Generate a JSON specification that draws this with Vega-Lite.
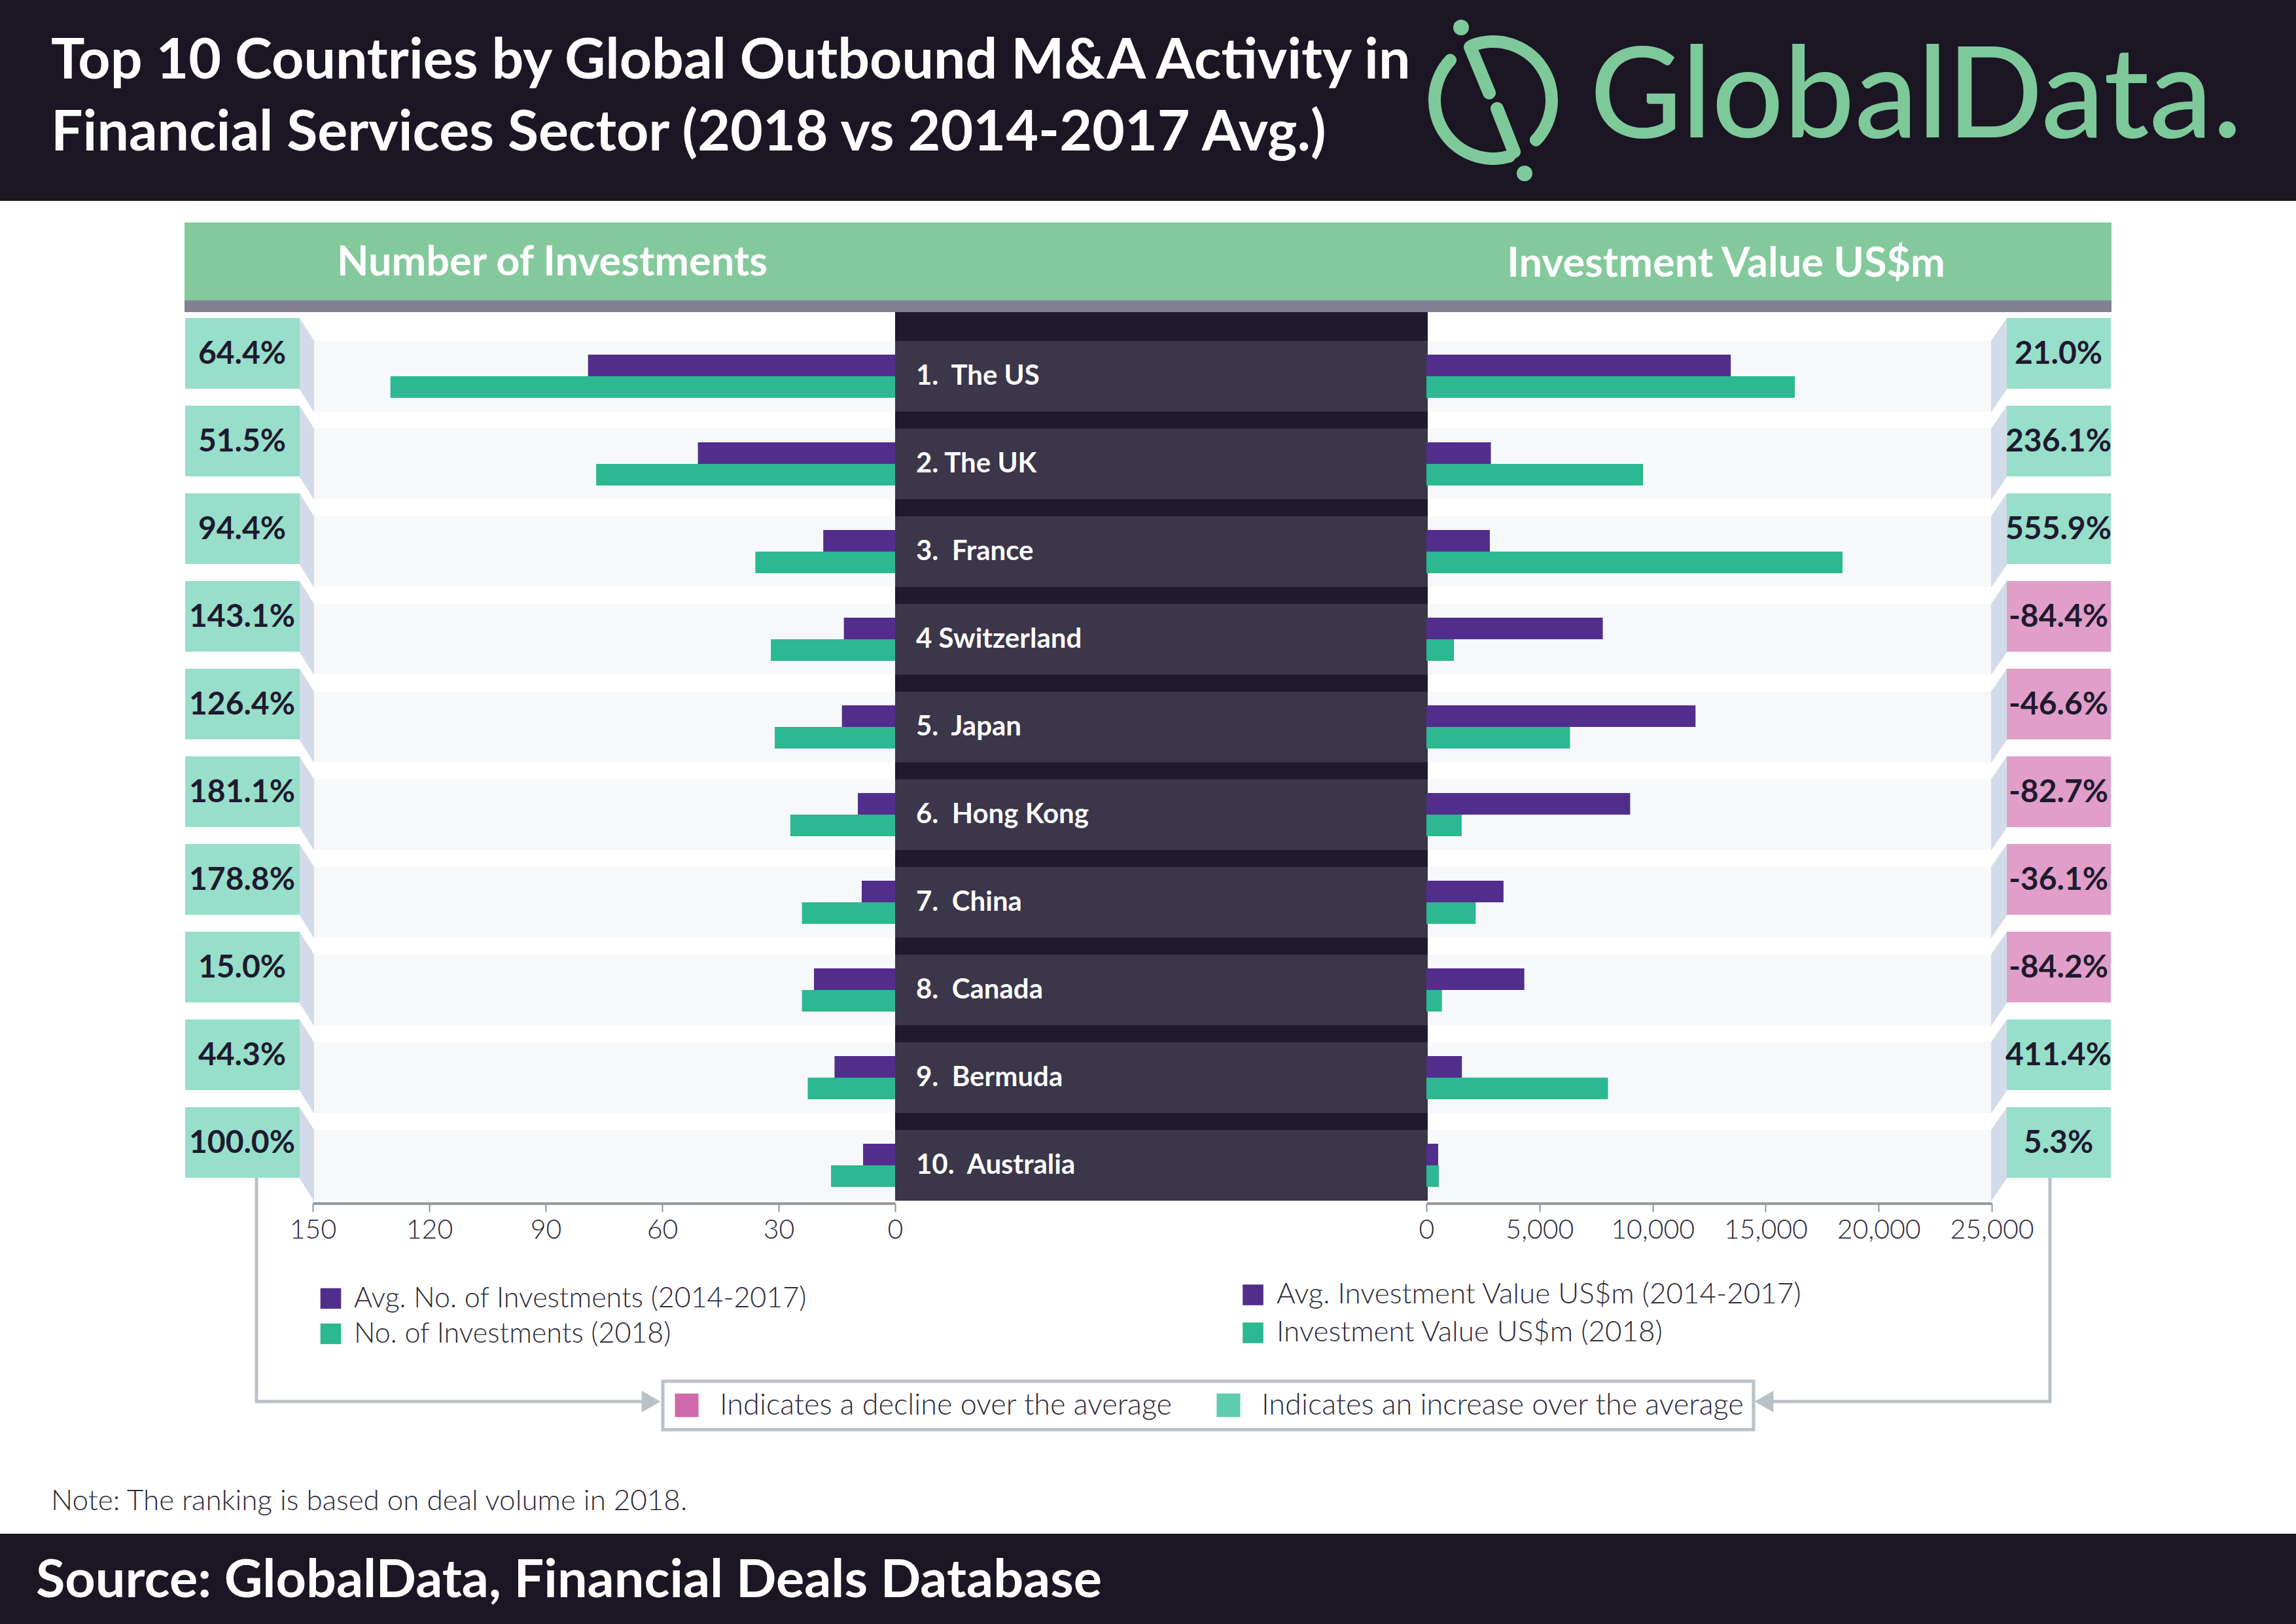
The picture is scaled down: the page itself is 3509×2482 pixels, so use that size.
{
  "$schema": "https://vega.github.io/schema/vega-lite/v6.json",
  "width": 3509,
  "height": 2482,
  "autosize": "none",
  "padding": 0,
  "background": "white",
  "config": {
    "font": "Lato",
    "view": {"stroke": null},
    "locale": {"number": {"decimal": ".", "thousands": ",", "grouping": [3], "currency": ["$", ""], "minus": "-"}}
  },
  "datasets": {
    "rows": [
      {"rank": 1, "country": "The US", "label": "1.\u00a0 The US", "avgN": 79.1, "n2018": 130, "pctN": 0.644, "trendN": "increase", "avgV": 13460, "v2018": 16290, "pctV": 0.21, "trendV": "increase"},
      {"rank": 2, "country": "The UK", "label": "2. The UK", "avgN": 50.8, "n2018": 77, "pctN": 0.515, "trendN": "increase", "avgV": 2850, "v2018": 9580, "pctV": 2.361, "trendV": "increase"},
      {"rank": 3, "country": "France", "label": "3.\u00a0 France", "avgN": 18.5, "n2018": 36, "pctN": 0.944, "trendN": "increase", "avgV": 2805, "v2018": 18400, "pctV": 5.559, "trendV": "increase"},
      {"rank": 4, "country": "Switzerland", "label": "4 Switzerland", "avgN": 13.2, "n2018": 32, "pctN": 1.431, "trendN": "increase", "avgV": 7800, "v2018": 1217, "pctV": -0.844, "trendV": "decline"},
      {"rank": 5, "country": "Japan", "label": "5.\u00a0 Japan", "avgN": 13.7, "n2018": 31, "pctN": 1.264, "trendN": "increase", "avgV": 11900, "v2018": 6350, "pctV": -0.466, "trendV": "decline"},
      {"rank": 6, "country": "Hong Kong", "label": "6.\u00a0 Hong Kong", "avgN": 9.6, "n2018": 27, "pctN": 1.811, "trendN": "increase", "avgV": 9010, "v2018": 1560, "pctV": -0.827, "trendV": "decline"},
      {"rank": 7, "country": "China", "label": "7.\u00a0 China", "avgN": 8.6, "n2018": 24, "pctN": 1.788, "trendN": "increase", "avgV": 3410, "v2018": 2180, "pctV": -0.361, "trendV": "decline"},
      {"rank": 8, "country": "Canada", "label": "8.\u00a0 Canada", "avgN": 20.9, "n2018": 24, "pctN": 0.15, "trendN": "increase", "avgV": 4330, "v2018": 685, "pctV": -0.842, "trendV": "decline"},
      {"rank": 9, "country": "Bermuda", "label": "9.\u00a0 Bermuda", "avgN": 15.6, "n2018": 22.5, "pctN": 0.443, "trendN": "increase", "avgV": 1570, "v2018": 8030, "pctV": 4.114, "trendV": "increase"},
      {"rank": 10, "country": "Australia", "label": "10.\u00a0 Australia", "avgN": 8.25, "n2018": 16.5, "pctN": 1.0, "trendN": "increase", "avgV": 520, "v2018": 548, "pctV": 0.053, "trendV": "increase"}
    ]
  },
  "layer": [
    {
      "data": {"values": [{}]},
      "mark": {"type": "rect", "color": "#1c1524"},
      "encoding": {"x": {"value": 0}, "x2": {"value": 3509}, "y": {"value": 0}, "y2": {"value": 307}}
    },
    {
      "data": {"values": [{}]},
      "mark": {"type": "arc", "theta": -0.471, "theta2": 2.426, "radius": 99, "radius2": 80, "cornerRadius": 9, "color": "#7dc99a"},
      "encoding": {"x": {"value": 2282}, "y": {"value": 153}}
    },
    {
      "data": {"values": [{}]},
      "mark": {"type": "arc", "theta": 2.758, "theta2": 5.568, "radius": 99, "radius2": 80, "cornerRadius": 9, "color": "#7dc99a"},
      "encoding": {"x": {"value": 2282}, "y": {"value": 153}}
    },
    {
      "data": {"values": [{}]},
      "mark": {"type": "rule", "color": "#7dc99a", "strokeWidth": 20, "strokeCap": "round"},
      "encoding": {"x": {"value": 2247}, "y": {"value": 72}, "x2": {"value": 2276}, "y2": {"value": 142}}
    },
    {
      "data": {"values": [{}]},
      "mark": {"type": "rule", "color": "#7dc99a", "strokeWidth": 20, "strokeCap": "round"},
      "encoding": {"x": {"value": 2288}, "y": {"value": 166}, "x2": {"value": 2314}, "y2": {"value": 232}}
    },
    {
      "data": {"values": [{}]},
      "mark": {"type": "point", "shape": "circle", "filled": true, "size": 576, "opacity": 1, "color": "#7dc99a"},
      "encoding": {"x": {"value": 2233}, "y": {"value": 42}}
    },
    {
      "data": {"values": [{}]},
      "mark": {"type": "point", "shape": "circle", "filled": true, "size": 576, "opacity": 1, "color": "#7dc99a"},
      "encoding": {"x": {"value": 2330}, "y": {"value": 265}}
    },
    {
      "data": {"values": [{}]},
      "mark": {"type": "text", "text": "GlobalData.", "align": "left", "baseline": "alphabetic", "fontSize": 193, "fontWeight": 500, "color": "#7dc99a"},
      "encoding": {"x": {"value": 2430}, "y": {"value": 210}}
    },
    {
      "data": {"values": [{}]},
      "mark": {"type": "text", "text": ["Top 10 Countries by Global Outbound M&A Activity in", "Financial Services Sector (2018 vs 2014-2017 Avg.)"], "align": "left", "baseline": "alphabetic", "fontSize": 86, "fontWeight": "bold", "color": "white", "lineHeight": 110},
      "encoding": {"x": {"value": 78}, "y": {"value": 120}}
    },
    {
      "data": {"values": [{}]},
      "mark": {"type": "rect", "color": "#84c99c"},
      "encoding": {"x": {"value": 282}, "x2": {"value": 3227}, "y": {"value": 340}, "y2": {"value": 459}}
    },
    {
      "data": {"values": [{}]},
      "mark": {"type": "rect", "color": "#828090"},
      "encoding": {"x": {"value": 282}, "x2": {"value": 3227}, "y": {"value": 459}, "y2": {"value": 477}}
    },
    {
      "data": {"values": [{}]},
      "mark": {"type": "text", "text": "Number of Investments", "align": "center", "baseline": "alphabetic", "fontSize": 63, "fontWeight": "bold", "color": "white"},
      "encoding": {"x": {"value": 844}, "y": {"value": 421}}
    },
    {
      "data": {"values": [{}]},
      "mark": {"type": "text", "text": "Investment Value US$m", "align": "center", "baseline": "alphabetic", "fontSize": 63, "fontWeight": "bold", "color": "white"},
      "encoding": {"x": {"value": 2638}, "y": {"value": 423}}
    },
    {
      "data": {"values": [{}]},
      "mark": {"type": "rect", "color": "#201a2f"},
      "encoding": {"x": {"value": 1368}, "x2": {"value": 2182}, "y": {"value": 477}, "y2": {"value": 1835}}
    },
    {
      "data": {"name": "rows"},
      "mark": {"type": "rect", "color": "#f7f8fa"},
      "encoding": {
        "y": {"field": "country", "type": "nominal", "sort": null, "scale": {"domain": ["The US", "The UK", "France", "Switzerland", "Japan", "Hong Kong", "China", "Canada", "Bermuda", "Australia"], "range": [508, 1848], "paddingInner": 0.194, "paddingOuter": 0.097}, "axis": null},
        "x": {"value": 480}, "x2": {"value": 1368}
      }
    },
    {
      "data": {"name": "rows"},
      "mark": {"type": "rect", "color": "#f7f8fa"},
      "encoding": {
        "y": {"field": "country", "type": "nominal", "sort": null, "scale": {"domain": ["The US", "The UK", "France", "Switzerland", "Japan", "Hong Kong", "China", "Canada", "Bermuda", "Australia"], "range": [508, 1848], "paddingInner": 0.194, "paddingOuter": 0.097}, "axis": null},
        "x": {"value": 2182}, "x2": {"value": 3043}
      }
    },
    {
      "data": {"name": "rows"},
      "mark": {"type": "rect", "color": "#3b3649"},
      "encoding": {
        "y": {"field": "country", "type": "nominal", "sort": null, "scale": {"domain": ["The US", "The UK", "France", "Switzerland", "Japan", "Hong Kong", "China", "Canada", "Bermuda", "Australia"], "range": [508, 1848], "paddingInner": 0.194, "paddingOuter": 0.097}, "axis": null},
        "x": {"value": 1368}, "x2": {"value": 2182}
      }
    },
    {
      "data": {"name": "rows"},
      "transform": [{"fold": ["avgN", "n2018"], "as": ["series", "amount"]}],
      "mark": {"type": "bar"},
      "encoding": {
        "y": {"field": "country", "type": "nominal", "sort": null, "scale": {"domain": ["The US", "The UK", "France", "Switzerland", "Japan", "Hong Kong", "China", "Canada", "Bermuda", "Australia"], "range": [508, 1848], "paddingInner": 0.194, "paddingOuter": 0.097}, "axis": null},
        "yOffset": {"field": "series", "type": "nominal", "scale": {"domain": ["avgN", "n2018"], "paddingInner": 0, "paddingOuter": 0.636}},
        "x": {
          "field": "amount", "type": "quantitative",
          "scale": {"domain": [0, 150], "range": [1368, 478], "nice": false},
          "axis": {"orient": "bottom", "offset": -643, "values": [0, 30, 60, 90, 120, 150], "title": null, "grid": false, "labelFontSize": 41, "labelFontWeight": 300, "labelColor": "#2d2a3a", "labelFlush": false, "labelOverlap": false, "domainColor": "#8c96a0", "domainWidth": 4, "tickColor": "#8c96a0", "tickWidth": 2, "tickSize": 13, "labelPadding": 8}
        },
        "color": {
          "field": "series", "type": "nominal",
          "scale": {"domain": ["avgN", "n2018"], "range": ["#512e8c", "#2cb890"]},
          "legend": {"orient": "none", "legendX": 484, "legendY": 1963, "title": null, "padding": 0, "symbolType": "square", "symbolSize": 1000, "symbolStrokeWidth": 0, "labelFontSize": 43, "labelFontWeight": 300, "labelColor": "#2d2a3a", "labelOffset": 14, "rowPadding": 10, "labelLimit": 2000,
            "labelExpr": "datum.value === 'avgN' ? 'Avg. No. of Investments (2014-2017)' : 'No. of Investments (2018)'"}
        }
      }
    },
    {
      "data": {"name": "rows"},
      "transform": [{"fold": ["avgV", "v2018"], "as": ["series", "amount"]}],
      "mark": {"type": "bar"},
      "encoding": {
        "y": {"field": "country", "type": "nominal", "sort": null, "scale": {"domain": ["The US", "The UK", "France", "Switzerland", "Japan", "Hong Kong", "China", "Canada", "Bermuda", "Australia"], "range": [508, 1848], "paddingInner": 0.194, "paddingOuter": 0.097}, "axis": null},
        "yOffset": {"field": "series", "type": "nominal", "scale": {"domain": ["avgV", "v2018"], "paddingInner": 0, "paddingOuter": 0.636}},
        "x": {
          "field": "amount", "type": "quantitative",
          "scale": {"domain": [0, 25000], "range": [2180, 3044], "nice": false},
          "axis": {"orient": "bottom", "offset": -643, "values": [0, 5000, 10000, 15000, 20000, 25000], "labelExpr": "format(datum.value, ',')", "title": null, "grid": false, "labelFontSize": 41, "labelFontWeight": 300, "labelColor": "#2d2a3a", "labelFlush": false, "labelOverlap": false, "domainColor": "#8c96a0", "domainWidth": 4, "tickColor": "#8c96a0", "tickWidth": 2, "tickSize": 13, "labelPadding": 8}
        },
        "color": {
          "field": "series", "type": "nominal",
          "scale": {"domain": ["avgV", "v2018"], "range": ["#512e8c", "#2cb890"]},
          "legend": {"orient": "none", "legendX": 1893, "legendY": 1957, "title": null, "padding": 0, "symbolType": "square", "symbolSize": 1000, "symbolStrokeWidth": 0, "labelFontSize": 44, "labelFontWeight": 300, "labelColor": "#2d2a3a", "labelOffset": 14, "rowPadding": 14, "labelLimit": 2000,
            "labelExpr": "datum.value === 'avgV' ? 'Avg. Investment Value US$m (2014-2017)' : 'Investment Value US$m (2018)'"}
        }
      }
    },
    {
      "data": {"name": "rows"},
      "mark": {"type": "text", "align": "left", "baseline": "middle", "fontSize": 42, "fontWeight": "bold", "color": "white"},
      "encoding": {
        "y": {"field": "country", "type": "nominal", "sort": null, "scale": {"domain": ["The US", "The UK", "France", "Switzerland", "Japan", "Hong Kong", "China", "Canada", "Bermuda", "Australia"], "range": [508, 1848], "paddingInner": 0.194, "paddingOuter": 0.097}, "axis": null},
        "x": {"value": 1400},
        "text": {"field": "label", "type": "nominal"}
      }
    },
    {
      "data": {"name": "rows"},
      "mark": {"type": "point", "shape": "M -0.153 -1 L 0.153 -0.514 L 0.153 1 L -0.153 0.514 Z", "size": 20736, "filled": true, "opacity": 1, "color": "#d2dce8", "yOffset": -17},
      "encoding": {
        "y": {"field": "country", "type": "nominal", "sort": null, "scale": {"domain": ["The US", "The UK", "France", "Switzerland", "Japan", "Hong Kong", "China", "Canada", "Bermuda", "Australia"], "range": [508, 1848], "paddingInner": 0.194, "paddingOuter": 0.097}, "axis": null},
        "x": {"value": 469}
      }
    },
    {
      "data": {"name": "rows"},
      "mark": {"type": "point", "shape": "M -0.167 -0.514 L 0.167 -1 L 0.167 0.514 L -0.167 1 Z", "size": 20736, "filled": true, "opacity": 1, "color": "#d2dce8", "yOffset": -17},
      "encoding": {
        "y": {"field": "country", "type": "nominal", "sort": null, "scale": {"domain": ["The US", "The UK", "France", "Switzerland", "Japan", "Hong Kong", "China", "Canada", "Bermuda", "Australia"], "range": [508, 1848], "paddingInner": 0.194, "paddingOuter": 0.097}, "axis": null},
        "x": {"value": 3055}
      }
    },
    {
      "data": {"name": "rows"},
      "mark": {"type": "rect", "yOffset": -35, "fillOpacity": 0.65},
      "encoding": {
        "y": {"field": "country", "type": "nominal", "sort": null, "scale": {"domain": ["The US", "The UK", "France", "Switzerland", "Japan", "Hong Kong", "China", "Canada", "Bermuda", "Australia"], "range": [508, 1848], "paddingInner": 0.194, "paddingOuter": 0.097}, "axis": null},
        "x": {"value": 283}, "x2": {"value": 458},
        "color": {"field": "trendN", "type": "nominal", "scale": {"domain": ["decline", "increase"], "range": ["#d06aac", "#5fcdaf"]}, "legend": null}
      }
    },
    {
      "data": {"name": "rows"},
      "mark": {"type": "rect", "yOffset": -35, "fillOpacity": 0.65},
      "encoding": {
        "y": {"field": "country", "type": "nominal", "sort": null, "scale": {"domain": ["The US", "The UK", "France", "Switzerland", "Japan", "Hong Kong", "China", "Canada", "Bermuda", "Australia"], "range": [508, 1848], "paddingInner": 0.194, "paddingOuter": 0.097}, "axis": null},
        "x": {"value": 3067}, "x2": {"value": 3226},
        "color": {
          "field": "trendV", "type": "nominal",
          "scale": {"domain": ["decline", "increase"], "range": ["#d06aac", "#5fcdaf"]},
          "legend": {"orient": "none", "legendX": 1013, "legendY": 2111, "direction": "horizontal", "title": null, "padding": 14, "strokeColor": "#b9c1c9", "symbolType": "square", "symbolSize": 1300, "symbolStrokeWidth": 0, "symbolOpacity": 1, "labelFontSize": 45, "labelFontWeight": 300, "labelColor": "#2d2a3a", "labelOffset": 28, "columnPadding": 62, "labelLimit": 2000,
            "labelExpr": "datum.value === 'decline' ? 'Indicates a decline over the average' : 'Indicates an increase over the average'",
            "encode": {"legend": {"update": {"strokeWidth": {"value": 5}}}}}
        }
      }
    },
    {
      "data": {"name": "rows"},
      "mark": {"type": "text", "align": "center", "baseline": "middle", "fontSize": 48, "fontWeight": "bold", "color": "#1e1a2e", "dy": -33},
      "encoding": {
        "y": {"field": "country", "type": "nominal", "sort": null, "scale": {"domain": ["The US", "The UK", "France", "Switzerland", "Japan", "Hong Kong", "China", "Canada", "Bermuda", "Australia"], "range": [508, 1848], "paddingInner": 0.194, "paddingOuter": 0.097}, "axis": null},
        "x": {"value": 370},
        "text": {"field": "pctN", "type": "quantitative", "format": ".1%"}
      }
    },
    {
      "data": {"name": "rows"},
      "mark": {"type": "text", "align": "center", "baseline": "middle", "fontSize": 48, "fontWeight": "bold", "color": "#1e1a2e", "dy": -33},
      "encoding": {
        "y": {"field": "country", "type": "nominal", "sort": null, "scale": {"domain": ["The US", "The UK", "France", "Switzerland", "Japan", "Hong Kong", "China", "Canada", "Bermuda", "Australia"], "range": [508, 1848], "paddingInner": 0.194, "paddingOuter": 0.097}, "axis": null},
        "x": {"value": 3146},
        "text": {"field": "pctV", "type": "quantitative", "format": ".1%"}
      }
    },
    {
      "data": {"values": [{}]},
      "mark": {"type": "rule", "color": "#b9c1c9", "strokeWidth": 5},
      "encoding": {"x": {"value": 392}, "y": {"value": 1800}, "y2": {"value": 2144}}
    },
    {
      "data": {"values": [{}]},
      "mark": {"type": "rule", "color": "#b9c1c9", "strokeWidth": 5},
      "encoding": {"x": {"value": 390}, "x2": {"value": 990}, "y": {"value": 2142}}
    },
    {
      "data": {"values": [{}]},
      "mark": {"type": "point", "shape": "triangle-right", "size": 1100, "filled": true, "opacity": 1, "color": "#b9c1c9"},
      "encoding": {"x": {"value": 995}, "y": {"value": 2142}}
    },
    {
      "data": {"values": [{}]},
      "mark": {"type": "rule", "color": "#b9c1c9", "strokeWidth": 5},
      "encoding": {"x": {"value": 3133}, "y": {"value": 1800}, "y2": {"value": 2144}}
    },
    {
      "data": {"values": [{}]},
      "mark": {"type": "rule", "color": "#b9c1c9", "strokeWidth": 5},
      "encoding": {"x": {"value": 2700}, "x2": {"value": 3135}, "y": {"value": 2142}}
    },
    {
      "data": {"values": [{}]},
      "mark": {"type": "point", "shape": "triangle-left", "size": 1100, "filled": true, "opacity": 1, "color": "#b9c1c9"},
      "encoding": {"x": {"value": 2696}, "y": {"value": 2142}}
    },
    {
      "data": {"values": [{}]},
      "mark": {"type": "text", "text": "Note: The ranking is based on deal volume in 2018.", "align": "left", "baseline": "alphabetic", "fontSize": 44, "fontWeight": 300, "color": "#2d2a3a"},
      "encoding": {"x": {"value": 78}, "y": {"value": 2308}}
    },
    {
      "data": {"values": [{}]},
      "mark": {"type": "rect", "color": "#1c1524"},
      "encoding": {"x": {"value": 0}, "x2": {"value": 3509}, "y": {"value": 2344}, "y2": {"value": 2482}}
    },
    {
      "data": {"values": [{}]},
      "mark": {"type": "text", "text": "Source: GlobalData, Financial Deals Database", "align": "left", "baseline": "alphabetic", "fontSize": 81, "fontWeight": "bold", "color": "white"},
      "encoding": {"x": {"value": 55}, "y": {"value": 2441}}
    }
  ],
  "resolve": {
    "scale": {"x": "independent", "color": "independent", "yOffset": "independent"},
    "axis": {"x": "independent"},
    "legend": {"color": "independent"}
  }
}
